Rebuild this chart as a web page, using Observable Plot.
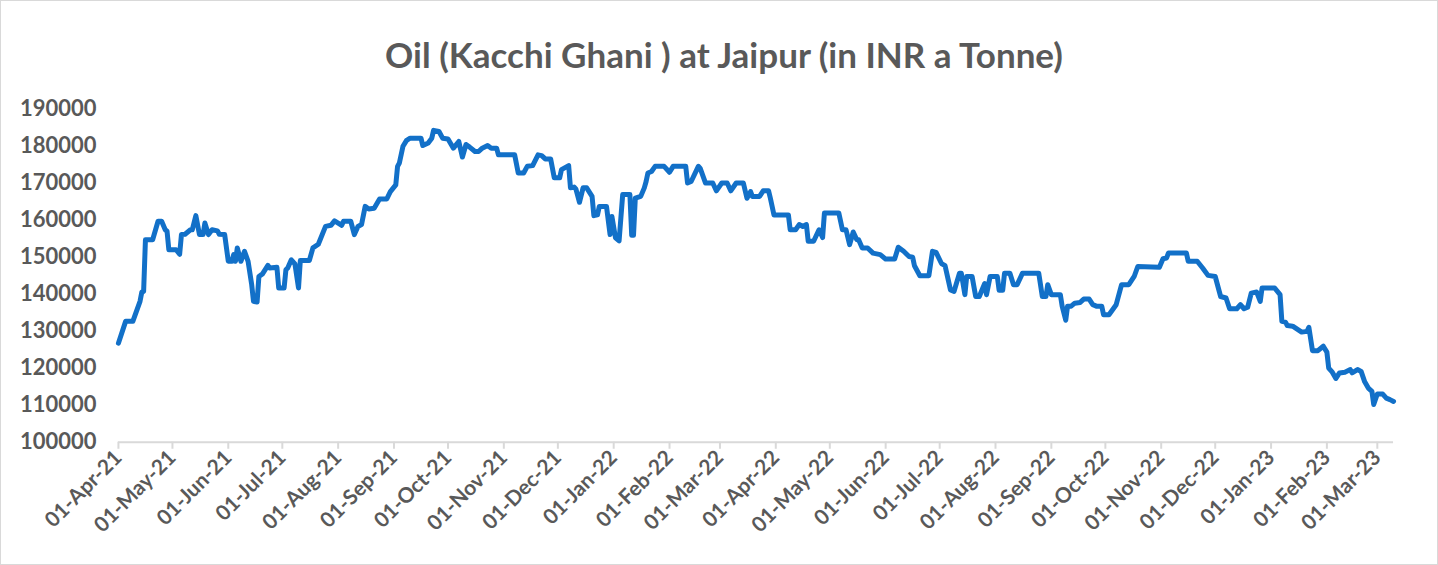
<!DOCTYPE html>
<html>
<head>
<meta charset="utf-8">
<script src="https://cdn.jsdelivr.net/npm/d3@7"></script>
<script src="https://cdn.jsdelivr.net/npm/@observablehq/plot@0.6"></script>
<style>
  html, body { margin: 0; padding: 0; background: #fff; }
  #chart { position: relative; width: 1438px; height: 565px; box-sizing: border-box; border: 1px solid #d9d9d9; overflow: hidden; }
  #title { position: absolute; top: 33px; left: 5px; width: 100%; text-align: center; font-family: Lato, sans-serif; font-weight: bold; font-size: 35px; line-height: 40px; color: #595959; }
  #plot { position: absolute; top: 95px; left: -1px; }
</style>
</head>
<body>
<div id="chart">
  <div id="title">Oil (Kacchi Ghani ) at Jaipur (in INR a Tonne)</div>
  <div id="plot"></div>
</div>
<script>
const titleText = "Oil (Kacchi Ghani ) at Jaipur (in INR a Tonne)";
const yTicks = [100000,110000,120000,130000,140000,150000,160000,170000,180000,190000];
const xTicks = ["2021-04-01","2021-05-01","2021-06-01","2021-07-01","2021-08-01","2021-09-01","2021-10-01","2021-11-01","2021-12-01","2022-01-01","2022-02-01","2022-03-01","2022-04-01","2022-05-01","2022-06-01","2022-07-01","2022-08-01","2022-09-01","2022-10-01","2022-11-01","2022-12-01","2023-01-01","2023-02-01","2023-03-01"];
const xDomain = ["2021-04-01","2023-03-10"];

const priceDates = [
"2021-04-01","2021-04-05","2021-04-09","2021-04-13","2021-04-14","2021-04-15","2021-04-16","2021-04-20","2021-04-23","2021-04-25",
"2021-04-27","2021-04-28","2021-04-29","2021-05-03","2021-05-05","2021-05-06","2021-05-08","2021-05-11","2021-05-12","2021-05-14",
"2021-05-16","2021-05-18","2021-05-19","2021-05-21","2021-05-23","2021-05-26","2021-05-27","2021-05-30","2021-06-01","2021-06-03",
"2021-06-04","2021-06-05","2021-06-06","2021-06-08","2021-06-10","2021-06-12","2021-06-14","2021-06-15","2021-06-17","2021-06-18",
"2021-06-20","2021-06-23","2021-06-24","2021-06-28","2021-06-29","2021-07-02","2021-07-03","2021-07-04","2021-07-06","2021-07-08",
"2021-07-10","2021-07-11","2021-07-16","2021-07-18","2021-07-21","2021-07-22","2021-07-25","2021-07-28","2021-07-30","2021-08-03",
"2021-08-04","2021-08-08","2021-08-10","2021-08-12","2021-08-14","2021-08-16","2021-08-18","2021-08-21","2021-08-24","2021-08-28",
"2021-08-30","2021-09-02","2021-09-03","2021-09-04","2021-09-06","2021-09-08","2021-09-10","2021-09-16","2021-09-17","2021-09-20",
"2021-09-22","2021-09-23","2021-09-26","2021-09-28","2021-10-01","2021-10-04","2021-10-07","2021-10-09","2021-10-11","2021-10-13",
"2021-10-16","2021-10-18","2021-10-20","2021-10-23","2021-10-25","2021-10-28","2021-10-29","2021-11-07","2021-11-09","2021-11-12",
"2021-11-14","2021-11-17","2021-11-20","2021-11-22","2021-11-24","2021-11-27","2021-11-29","2021-12-02","2021-12-03","2021-12-07",
"2021-12-08","2021-12-10","2021-12-11","2021-12-13","2021-12-15","2021-12-17","2021-12-20","2021-12-21","2021-12-23","2021-12-24",
"2021-12-28","2021-12-30","2021-12-31","2022-01-02","2022-01-04","2022-01-06","2022-01-10","2022-01-11","2022-01-12","2022-01-13",
"2022-01-16","2022-01-18","2022-01-19","2022-01-20","2022-01-22","2022-01-24","2022-01-29","2022-02-01","2022-02-03","2022-02-10",
"2022-02-11","2022-02-13","2022-02-17","2022-02-18","2022-02-21","2022-02-25","2022-02-27","2022-03-02","2022-03-05","2022-03-07",
"2022-03-10","2022-03-14","2022-03-16","2022-03-18","2022-03-19","2022-03-23","2022-03-25","2022-03-28","2022-03-29","2022-03-31",
"2022-04-08","2022-04-09","2022-04-12","2022-04-14","2022-04-16","2022-04-18","2022-04-19","2022-04-22","2022-04-25","2022-04-27",
"2022-04-28","2022-05-06","2022-05-08","2022-05-10","2022-05-12","2022-05-14","2022-05-16","2022-05-17","2022-05-19","2022-05-22",
"2022-05-25","2022-05-29","2022-06-01","2022-06-06","2022-06-08","2022-06-11","2022-06-14","2022-06-16","2022-06-17","2022-06-20",
"2022-06-25","2022-06-27","2022-06-29","2022-07-02","2022-07-04","2022-07-07","2022-07-09","2022-07-12","2022-07-13","2022-07-15",
"2022-07-16","2022-07-19","2022-07-21","2022-07-23","2022-07-26","2022-07-27","2022-07-29","2022-08-02","2022-08-03","2022-08-05",
"2022-08-06","2022-08-09","2022-08-11","2022-08-13","2022-08-16","2022-08-25","2022-08-27","2022-08-29","2022-08-30","2022-09-01",
"2022-09-06","2022-09-07","2022-09-09","2022-09-10","2022-09-12","2022-09-14","2022-09-17","2022-09-19","2022-09-22","2022-09-24",
"2022-09-26","2022-09-29","2022-09-30","2022-10-03","2022-10-07","2022-10-10","2022-10-14","2022-10-17","2022-10-19","2022-10-31",
"2022-11-02","2022-11-04","2022-11-05","2022-11-15","2022-11-16","2022-11-21","2022-11-24","2022-11-27","2022-12-01","2022-12-04",
"2022-12-07","2022-12-09","2022-12-13","2022-12-15","2022-12-17","2022-12-19","2022-12-21","2022-12-24","2022-12-26","2022-12-27",
"2023-01-03","2023-01-06","2023-01-07","2023-01-09","2023-01-10","2023-01-13","2023-01-18","2023-01-21","2023-01-22","2023-01-24",
"2023-01-27","2023-01-30","2023-02-01","2023-02-02","2023-02-04","2023-02-06","2023-02-08","2023-02-11","2023-02-14","2023-02-15",
"2023-02-18","2023-02-20","2023-02-22","2023-02-24","2023-02-26","2023-02-27","2023-03-01","2023-03-04","2023-03-06","2023-03-08",
"2023-03-10"
];
const priceValues = [
126700,132600,132600,138000,140500,140700,154600,154600,159600,159600,
157300,156900,151900,151900,150700,156000,156100,157300,157300,161100,
156000,156000,159100,156000,157300,157000,156100,156000,148800,148800,
150600,148800,152400,148800,151500,148800,142500,138000,137800,144700,
145400,147700,147000,147200,141600,141600,146500,147000,149200,148100,
141600,149000,149000,152400,153400,154600,158200,158500,159700,158500,
159600,159600,156000,158200,158700,163600,162900,163100,165600,165600,
167600,169400,174400,175300,179800,181400,182000,182000,180000,180700,
182000,184100,183800,182000,181800,179300,181100,176900,180300,179600,
178400,178400,179300,180000,179300,179300,177500,177500,172600,172600,
174400,174600,177500,177300,176400,176400,171300,171300,173500,174600,
168600,168800,168300,164700,168600,168600,166300,161100,161300,163600,
163600,156000,160900,155100,154300,166800,166800,155800,155800,165800,
166300,168600,170300,172600,173000,174400,174400,172800,174400,174400,
169900,170300,174400,173900,169900,169900,167800,169900,169900,167800,
169900,169900,165800,167600,166300,166300,167800,167800,165800,161300,
161300,157300,157300,158700,158200,158700,154200,154200,157300,155200,
161800,161800,157300,157300,153300,156700,154600,154600,152400,152400,
151000,150600,149400,149400,152600,151500,150100,149900,147600,144900,
144900,151500,151200,148200,147600,141100,140700,145600,145600,139800,
144700,144700,139300,139300,142800,139800,144700,144700,141000,141000,
145600,145600,142500,142500,145600,145600,139300,139300,142500,139800,
139800,136700,132900,136700,136700,137500,137700,138600,138600,137100,
136700,136700,134400,134400,137100,142500,142500,144700,147400,147200,
149500,149700,151000,151000,148800,148800,147000,145000,144700,139300,
138900,136000,136000,137100,136000,136400,140200,140500,138000,141600,
141600,139800,132600,132400,131500,131300,129700,129900,131000,124700,
124700,125900,124300,120000,118900,117200,118700,118900,119600,118700,
119600,119100,116300,114600,113700,110200,113000,113000,111900,111500,
111000
];

const parse = d3.utcParse("%Y-%m-%d");
const data = priceDates.map((d, i) => ({date: parse(d), value: priceValues[i]}));

const textColor = "#595959";
const gridColor = "#d9d9d9";

const chart = Plot.plot({
  width: 1438,
  height: 470,
  marginTop: 12,
  marginBottom: 124,
  marginLeft: 118,
  marginRight: 44,
  style: { fontFamily: "Lato, sans-serif", fontWeight: "bold", fontSize: "21px", color: textColor, background: "transparent", overflow: "visible" },
  x: { type: "utc", domain: xDomain.map(parse) },
  y: { domain: [100000, 190000] },
  marks: [
    Plot.ruleY([100000], { stroke: gridColor, strokeWidth: 2 }),
    Plot.axisX({
      ticks: xTicks.map(parse),
      tickFormat: d3.utcFormat("%d-%b-%y"),
      tickRotate: -45,
      tickSize: 7,
      tickPadding: 5,
      stroke: gridColor,
      strokeWidth: 2,
      fill: textColor,
      fontSize: 21,
      label: null
    }),
    Plot.axisY({
      ticks: yTicks,
      tickFormat: d => String(d),
      tickSize: 0,
      tickPadding: 22,
      fill: textColor,
      fontSize: 22,
      label: null
    }),
    Plot.lineY(data, { x: "date", y: "value", stroke: "#1270C8", strokeWidth: 5, strokeLinejoin: "round", strokeLinecap: "round" })
  ]
});
document.getElementById("plot").appendChild(chart);
</script>
</body>
</html>
